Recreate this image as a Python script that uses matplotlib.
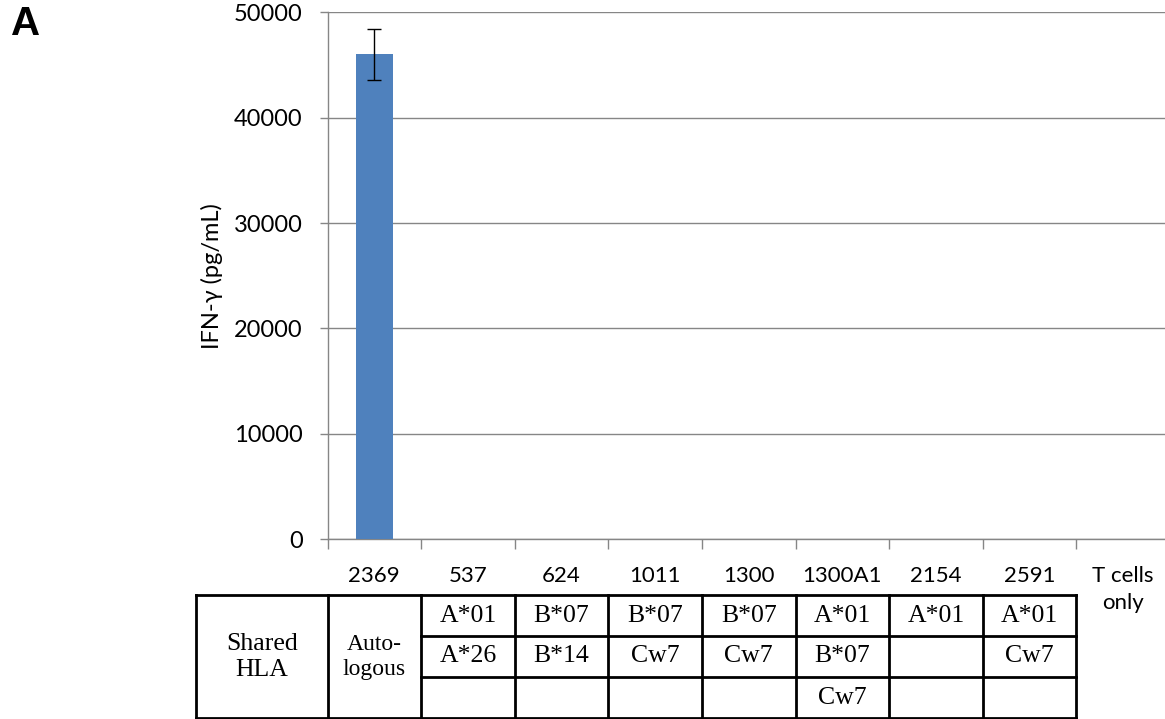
import matplotlib
matplotlib.use("Agg")
import matplotlib.pyplot as plt
from matplotlib.lines import Line2D
import matplotlib.transforms as mtransforms

# IFN-gamma release by the T cells against each target line
targets = ["2369", "537", "624", "1011", "1300", "1300A1", "2154", "2591", "T cells\nonly"]
ifn_gamma = [46000, 0, 0, 0, 0, 0, 0, 0, 0]
ifn_gamma_err = [2400, 0, 0, 0, 0, 0, 0, 0, 0]
y_ticks = [0, 10000, 20000, 30000, 40000, 50000]

# HLA alleles shared with the autologous line (one list per allogeneic target)
shared_hla = [
    ["A*01", "A*26"],
    ["B*07", "B*14"],
    ["B*07", "Cw7"],
    ["B*07", "Cw7"],
    ["A*01", "B*07", "Cw7"],
    ["A*01"],
    ["A*01", "Cw7"],
]

W, H = 1165, 719
fig = plt.figure(figsize=(W / 100, H / 100), dpi=100)
ax = fig.add_axes([327.5 / W, 1 - 539.3 / H, 842.5 / W, 527.0 / H])

grid_c = "#868686"
bar_c = "#4F81BD"
sans = ["Lato", "DejaVu Sans"]
serif = ["Liberation Serif", "DejaVu Serif"]

x = list(range(len(targets)))
ax.bar(x[:1], ifn_gamma[:1], width=0.4, color=bar_c, zorder=3)
ax.errorbar(x[:1], ifn_gamma[:1], yerr=ifn_gamma_err[:1], fmt="none",
            ecolor="black", elinewidth=1.0, capsize=5, capthick=1.0, zorder=4)

ax.set_xlim(-0.5, len(targets) - 0.5)
ax.set_ylim(0, 50000)
ax.set_yticks(y_ticks)
ax.set_yticklabels([str(v) for v in y_ticks], fontfamily=sans, fontsize=17)
ax.yaxis.grid(True, color=grid_c, linewidth=1.0)
ax.set_axisbelow(True)

# category labels at centres, tick marks at category boundaries
ax.set_xticks(x)
ax.set_xticklabels(targets, fontfamily=sans, fontsize=16, linespacing=1.45, va="top")
ax.set_xticks([i - 0.5 for i in range(len(targets) + 1)], minor=True)
ax.tick_params(axis="x", which="major", length=0, pad=19)
ax.tick_params(axis="x", which="minor", length=7, width=1.0, color=grid_c, direction="out")
ax.tick_params(axis="y", length=6, width=1.0, color=grid_c, direction="out", pad=12)

for side in ["top", "right"]:
    ax.spines[side].set_visible(False)
for side in ["left", "bottom"]:
    ax.spines[side].set_color(grid_c)
    ax.spines[side].set_linewidth(1.0)

ax.set_ylabel("IFN-γ (pg/mL)", fontfamily=sans, fontsize=17)
ax.yaxis.set_label_coords(-0.124, 0.5)

fig.text(11 / W, 1 - 24 / H, "A", fontfamily=["Liberation Sans", "DejaVu Sans"],
         fontweight="bold", fontsize=29, va="center", ha="left")

# table of shared HLA alleles, columns aligned with the categories
tr = mtransforms.blended_transform_factory(ax.transData, fig.transFigure)
row_px = [595, 636, 677, 718]
rows = [1 - p / H for p in row_px]
x_left = -0.5 - (327.5 - 196) / 93.6
lw = 2.0
kw = dict(transform=tr, color="black", linewidth=lw, clip_on=False, solid_capstyle="projecting")

n_cols = len(shared_hla)
x_right = 0.5 + n_cols
# outer frame
fig.add_artist(Line2D([x_left, x_right], [rows[0], rows[0]], **kw))
fig.add_artist(Line2D([x_left, x_right], [rows[-1], rows[-1]], **kw))
fig.add_artist(Line2D([x_left, x_left], [rows[0], rows[-1]], **kw))
for b in [i - 0.5 for i in range(n_cols + 2)]:
    fig.add_artist(Line2D([b, b], [rows[0], rows[-1]], **kw))
for r in rows[1:-1]:
    fig.add_artist(Line2D([0.5, x_right], [r, r], **kw))

fig.text((x_left - 0.5) / 2, 1 - 657 / H, "Shared\nHLA", transform=tr,
         fontfamily=serif, fontsize=18.5, ha="center", va="center", linespacing=1.25)
fig.text(0, 1 - 657 / H, "Auto-\nlogous", transform=tr,
         fontfamily=serif, fontsize=17, ha="center", va="center", linespacing=1.2)
for ci, alleles in enumerate(shared_hla):
    for ri, allele in enumerate(alleles):
        yc = (rows[ri] + rows[ri + 1]) / 2
        fig.text(ci + 1, yc, allele, transform=tr, fontfamily=serif,
                 fontsize=18.5, ha="center", va="center")

fig.savefig("out.png", dpi=100)
